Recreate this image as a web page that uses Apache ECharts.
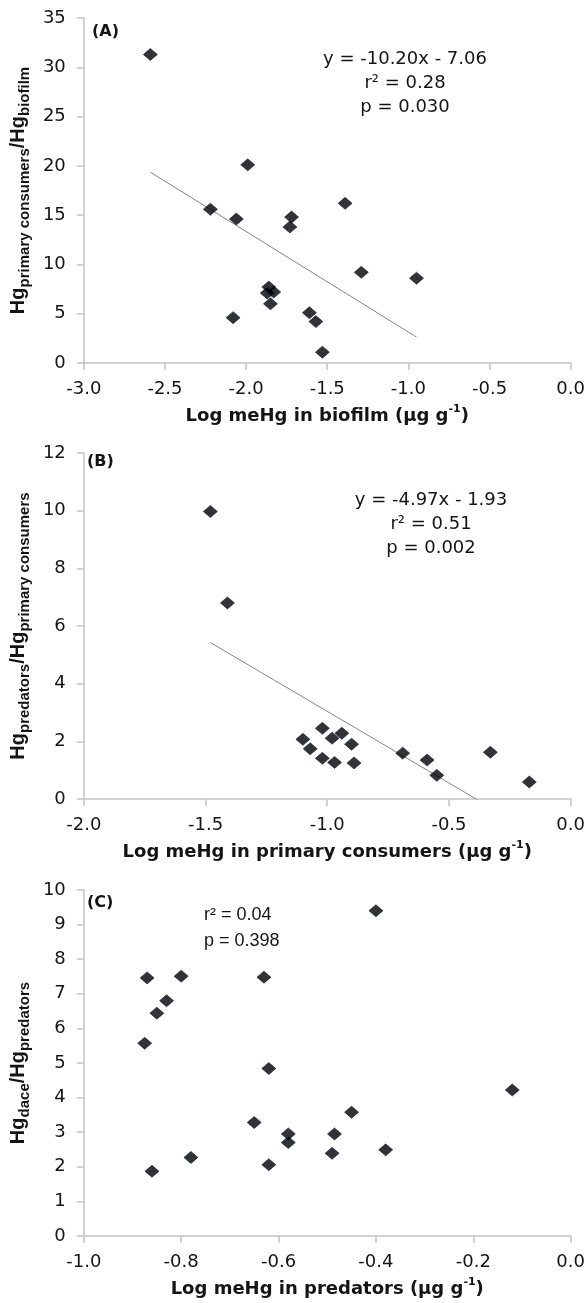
<!DOCTYPE html>
<html>
<head>
<meta charset="utf-8">
<script src="https://cdn.jsdelivr.net/npm/echarts@6/dist/echarts.min.js"></script>
<style>
  html, body { margin: 0; padding: 0; background: #ffffff; }
  #chart { width: 588px; height: 1303px; }
</style>
</head>
<body>
<div id="chart"></div>
<script>
// (A) log meHg in biofilm vs. Hg ratio primary consumers / biofilm
const biofilmLogMeHg = [-2.59, -1.99, -2.22, -2.06, -1.72, -1.73, -1.39, -1.29, -0.95, -1.86, -1.87, -1.83, -1.85, -2.08, -1.61, -1.57, -1.53];
const ratioPrimaryToBiofilm = [31.3, 20.1, 15.6, 14.6, 14.8, 13.8, 16.2, 9.2, 8.6, 7.7, 7.1, 7.2, 6.0, 4.6, 5.1, 4.2, 1.1];
const fitA = { slope: -10.20, intercept: -7.06 };
const statsA = ['y = -10.20x - 7.06', 'r\u00b2 = 0.28', 'p = 0.030'];

// (B) log meHg in primary consumers vs. Hg ratio predators / primary consumers
const primaryLogMeHg = [-1.48, -1.41, -1.10, -1.07, -1.02, -1.02, -0.98, -0.97, -0.94, -0.90, -0.89, -0.69, -0.59, -0.55, -0.33, -0.17];
const ratioPredatorsToPrimary = [9.97, 6.8, 2.07, 1.74, 2.45, 1.41, 2.11, 1.27, 2.28, 1.90, 1.25, 1.59, 1.35, 0.82, 1.62, 0.59];
const fitB = { slope: -4.97, intercept: -1.93 };
const statsB = ['y = -4.97x - 1.93', 'r\u00b2 = 0.51', 'p = 0.002'];

// (C) log meHg in predators vs. Hg ratio dace / predators
const predatorLogMeHg = [-0.40, -0.87, -0.80, -0.63, -0.83, -0.85, -0.875, -0.62, -0.12, -0.45, -0.65, -0.58, -0.58, -0.485, -0.49, -0.38, -0.78, -0.62, -0.86];
const ratioDaceToPredators = [9.40, 7.46, 7.51, 7.48, 6.80, 6.44, 5.57, 4.84, 4.22, 3.58, 3.28, 2.95, 2.70, 2.95, 2.39, 2.49, 2.27, 2.06, 1.87];
const statsC = ['r\u00b2 = 0.04', 'p = 0.398'];

// axis ticks for each panel
const xTicksA = [-3.0, -2.5, -2.0, -1.5, -1.0, -0.5, 0.0];
const yTicksA = [0, 5, 10, 15, 20, 25, 30, 35];
const xTicksB = [-2.0, -1.5, -1.0, -0.5, 0.0];
const yTicksB = [0, 2, 4, 6, 8, 10, 12];
const xTicksC = [-1.0, -0.8, -0.6, -0.4, -0.2, 0.0];
const yTicksC = [0, 1, 2, 3, 4, 5, 6, 7, 8, 9, 10];

const WIDE = '"DejaVu Sans", Verdana, sans-serif';
const NARROW = '"Liberation Sans", Arial, Helvetica, sans-serif';
const AXIS_GREY = '#c3c3c3';
const TEXT = '#141414';

function zip(xs, ys) { return xs.map((x, i) => [x, ys[i]]); }

// regression line spanning the observed x range
function fitLine(xs, fit) {
  const lo = Math.min(...xs), hi = Math.max(...xs);
  return [[lo, fit.slope * lo + fit.intercept], [hi, fit.slope * hi + fit.intercept]];
}

function xAxisFor(ticks, gridIndex, nameText) {
  const step = +(ticks[1] - ticks[0]).toFixed(6);
  return {
    type: 'value', gridIndex,
    min: ticks[0], max: ticks[ticks.length - 1], interval: step,
    name: '{t|' + nameText + ' (\u00b5g g}{sup|-1}{t|)}',
    nameLocation: 'middle', nameGap: 41,
    nameTextStyle: {
      rich: {
        t: { fontFamily: WIDE, fontSize: 18, fontWeight: 'bold', color: TEXT, lineHeight: 24 },
        sup: { fontFamily: WIDE, fontSize: 11, fontWeight: 'bold', color: TEXT, lineHeight: 14, verticalAlign: 'top' }
      }
    },
    axisLine: { show: true, onZero: false, lineStyle: { color: AXIS_GREY, width: 1.5 } },
    axisTick: { show: true, length: 7, lineStyle: { color: AXIS_GREY, width: 1.5 } },
    splitLine: { show: false },
    axisLabel: {
      fontFamily: WIDE, fontSize: 18, color: TEXT, margin: 17,
      formatter: v => (Math.abs(v) < 1e-9 ? 0 : v).toFixed(1)
    }
  };
}

function yAxisFor(ticks, gridIndex, numer, denom) {
  return {
    type: 'value', gridIndex,
    min: ticks[0], max: ticks[ticks.length - 1], interval: ticks[1] - ticks[0],
    name: '{m|Hg}{s|' + numer + '}{m|/Hg}{s|' + denom + '}',
    nameLocation: 'middle', nameRotate: 90, nameGap: 42,
    nameTextStyle: {
      rich: {
        m: { fontFamily: NARROW, fontSize: 20, fontWeight: 'bold', color: TEXT, lineHeight: 28 },
        s: { fontFamily: NARROW, fontSize: 15, fontWeight: 'bold', color: TEXT, lineHeight: 15, verticalAlign: 'bottom' }
      }
    },
    axisLine: { show: true, onZero: false, lineStyle: { color: AXIS_GREY, width: 1.5 } },
    axisTick: { show: true, length: 7, lineStyle: { color: AXIS_GREY, width: 1.5 } },
    splitLine: { show: false },
    axisLabel: { fontFamily: WIDE, fontSize: 18, color: TEXT, margin: 18 }
  };
}

const pointStyle = {
  type: 'scatter', symbol: 'diamond', symbolSize: [14, 12],
  itemStyle: { color: '#000000', borderColor: '#0e1a48', borderWidth: 0.8 },
  z: 3
};
const trendStyle = {
  type: 'line', showSymbol: false, symbol: 'none', silent: true, clip: true,
  lineStyle: { color: '#858585', width: 1 }, z: 2
};

function statsText(lines, x, y, align, lh, font) {
  return {
    type: 'text', x, y, silent: true,
    style: {
      text: lines.join('\n'), textAlign: align, textVerticalAlign: 'middle',
      font, fill: TEXT, lineHeight: lh
    }
  };
}
function panelTag(label, x, y) {
  return {
    type: 'text', x, y, silent: true,
    style: { text: label, textAlign: 'left', textVerticalAlign: 'middle', font: 'bold 16px ' + WIDE, fill: TEXT }
  };
}

const chart = echarts.init(document.getElementById('chart'), null, { renderer: 'canvas' });
chart.setOption({
  animation: false,
  backgroundColor: '#ffffff',
  grid: [
    { left: 76, width: 495, top: 18, height: 345 },
    { left: 76, width: 495, top: 453, height: 346 },
    { left: 76, width: 495, top: 890, height: 346 }
  ],
  xAxis: [
    xAxisFor(xTicksA, 0, 'Log meHg in biofilm'),
    xAxisFor(xTicksB, 1, 'Log meHg in primary consumers'),
    xAxisFor(xTicksC, 2, 'Log meHg in predators')
  ],
  yAxis: [
    yAxisFor(yTicksA, 0, 'primary consumers', 'biofilm'),
    yAxisFor(yTicksB, 1, 'predators', 'primary consumers'),
    yAxisFor(yTicksC, 2, 'dace', 'predators')
  ],
  series: [
    Object.assign({}, trendStyle, { xAxisIndex: 0, yAxisIndex: 0, data: fitLine(biofilmLogMeHg, fitA) }),
    Object.assign({}, pointStyle, { xAxisIndex: 0, yAxisIndex: 0, data: zip(biofilmLogMeHg, ratioPrimaryToBiofilm) }),
    Object.assign({}, trendStyle, { xAxisIndex: 1, yAxisIndex: 1, data: fitLine(primaryLogMeHg, fitB) }),
    Object.assign({}, pointStyle, { xAxisIndex: 1, yAxisIndex: 1, data: zip(primaryLogMeHg, ratioPredatorsToPrimary) }),
    Object.assign({}, pointStyle, { xAxisIndex: 2, yAxisIndex: 2, data: zip(predatorLogMeHg, ratioDaceToPredators) })
  ],
  graphic: [
    panelTag('(A)', 92, 32),
    panelTag('(B)', 87, 462),
    panelTag('(C)', 87, 903),
    statsText(statsA, 405, 83, 'center', 24, '18px ' + WIDE),
    statsText(statsB, 431, 524, 'center', 24, '18px ' + WIDE),
    statsText(statsC, 204, 928, 'left', 26, '18px ' + NARROW)
  ]
});
</script>
</body>
</html>
